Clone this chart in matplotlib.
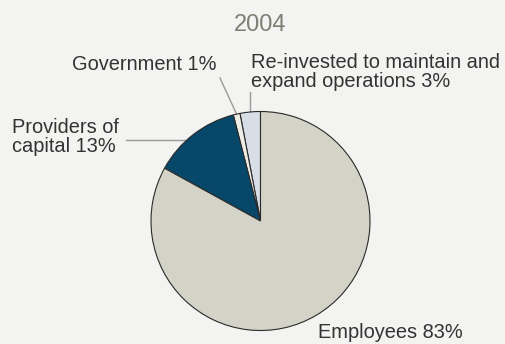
import matplotlib.pyplot as plt
import numpy as np

plt.rcParams['font.family'] = ['Liberation Sans', 'DejaVu Sans']

title = '2004'
labels = ['Re-invested to maintain and\nexpand operations 3%', 'Government 1%',
          'Providers of\ncapital 13%', 'Employees 83%']
shares = [3, 1, 13, 83]
colors = ['#d8dee6', '#eeede5', '#06476a', '#d3d3c7']

W, H = 505, 344
fig = plt.figure(figsize=(W / 100, H / 100), dpi=100)
fig.patch.set_facecolor('#f3f3f1')
ax = fig.add_axes([0, 0, 1, 1])
ax.set_xlim(0, W)
ax.set_ylim(0, H)
ax.set_aspect('equal')
ax.axis('off')

cx, cy, r = 260.5, H - 221, 109.5
wedges, _ = ax.pie(shares, colors=colors, startangle=90, counterclock=True,
                   center=(cx, cy), radius=r,
                   wedgeprops=dict(edgecolor='#2a2a2a', linewidth=0.8))
ax.set_xlim(0, W)
ax.set_ylim(0, H)

def edge(w, frac=0.5):
    a = np.deg2rad(w.theta1 + frac * (w.theta2 - w.theta1))
    return cx + r * np.cos(a), cy + r * np.sin(a)

ax.text(cx, H - 25, title, ha='center', va='center', fontsize=17, color='#7b8073')

txt = dict(fontsize=14.4, color='#333333', linespacing=0.95)
lc = dict(color='#9a9a9a', linewidth=1.0, zorder=0)

# re-invested
x0, y0 = edge(wedges[0])
ax.plot([x0, x0], [y0, H - 92], **lc)
ax.text(251, H - 72, labels[0], ha='left', va='center', **txt)

# government
x0, y0 = edge(wedges[1])
ax.plot([x0, 220], [y0, H - 78], **lc)
ax.text(217, H - 64, labels[1], ha='right', va='center', **txt)

# providers of capital
x0, y0 = edge(wedges[2], 0.6)
ax.plot([126, x0], [y0, y0], **lc)
ax.text(12, H - 137, labels[2], ha='left', va='center', **txt)

# employees
ax.text(318, H - 332, labels[3], ha='left', va='center', **txt)

fig.savefig('out.png', dpi=100, facecolor=fig.get_facecolor())
